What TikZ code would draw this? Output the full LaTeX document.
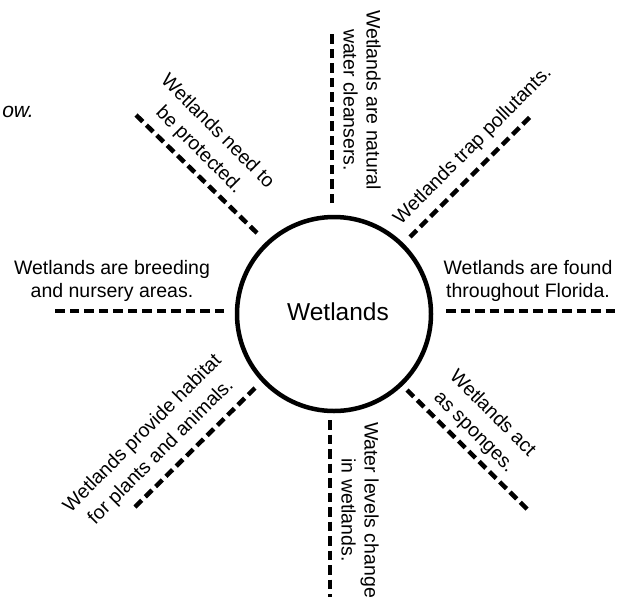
\documentclass[tikz,border=0pt]{standalone}
\usepackage{fontspec}
\setmainfont{Liberation Sans}
\begin{document}
\begin{tikzpicture}[x=1pt,y=-1pt,
  spoke/.style={line width=4.5pt, dash pattern=on 9.5pt off 5pt},
  lbl/.style={inner sep=0pt, align=center, font=\fontsize{19.5}{23}\selectfont},
  dlbl/.style={inner sep=0pt, align=center, font=\fontsize{19.5}{26}\selectfont},
  hub/.style={circle, draw, line width=4.5pt, minimum size=194pt, inner sep=0pt, font=\fontsize{24.5}{28}\selectfont}
]
\useasboundingbox (0,0) rectangle (617,597);
\node[hub] (c) at (334,314) {};
\node[inner sep=0pt, font=\fontsize{24.5}{28}\selectfont] (ct) at (338,312) {Wetlands};

% spoke end points
\coordinate (t1) at (332,203); \coordinate (t2) at (332,33);
\coordinate (tr1) at (410,237); \coordinate (tr2) at (530,117);
\coordinate (r1) at (446,311); \coordinate (r2) at (617,311);
\coordinate (br1) at (407,390); \coordinate (br2) at (527,509);
\coordinate (b1) at (330,420); \coordinate (b2) at (330,597);
\coordinate (bl1) at (255,388); \coordinate (bl2) at (135,507);
\coordinate (l1) at (224,311); \coordinate (l2) at (53,311);
\coordinate (tl1) at (257,233); \coordinate (tl2) at (136,115);

\draw[spoke] (t1) -- (t2);
\draw[spoke] (tr1) -- (tr2);
\draw[spoke] (r1) -- (r2);
\draw[spoke] (br1) -- (br2);
\draw[spoke] (b1) -- (b2);
\draw[spoke] (bl1) -- (bl2);
\draw[spoke] (l1) -- (l2);
\draw[spoke] (tl1) -- (tl2);

\node[lbl] (lt) at (112,281) {Wetlands are breeding\\and nursery areas.};
\node[lbl] (rt) at (528,281) {Wetlands are found\\throughout Florida.};
\node[lbl, rotate=-90] (tt) at (362,100) {Wetlands are natural\\water cleansers.};
\node[lbl, rotate=-90] (bt) at (360,510) {Water levels change\\in wetlands.};
\node[dlbl, rotate=-45] (tlt) at (208,141) {Wetlands need to\\be protected.};
\node[dlbl, rotate=45] (trt) at (473,146) {Wetlands trap pollutants.};
\node[dlbl, rotate=45] (blt) at (152,443) {Wetlands provide habitat\\for plants and animals.};
\node[dlbl, rotate=-45] (brt) at (483,423) {Wetlands act\\as sponges.};

\node[inner sep=0pt, anchor=base east, font=\fontsize{21}{24}\selectfont\itshape] (ow) at (34,117) {ow.};
\end{tikzpicture}
\end{document}
